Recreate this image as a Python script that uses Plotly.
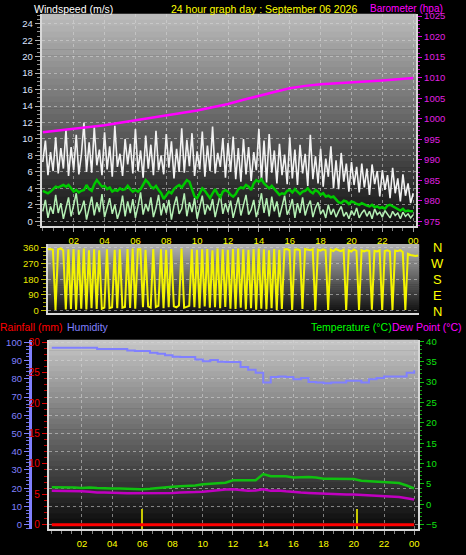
import plotly.graph_objects as go

W, H = 466, 555

# ---------------- data ----------------
hours_10min = [i / 6 for i in range(145)]
hours_30min = [i / 2 for i in range(49)]
hours_1h = list(range(25))

x_tick_vals = [2, 4, 6, 8, 10, 12, 14, 16, 18, 20, 22, 24]
x_tick_text = ["02", "04", "06", "08", "10", "12", "14", "16", "18", "20", "22", "00"]

wind_gust = [
    7.2, 9.8, 5.6, 8.4, 6.1, 10.2,
    5.8, 8.9, 6.4, 11.1, 5.5, 9.0,
    6.2, 10.5, 5.7, 8.1, 12.0, 6.0,
    9.6, 5.9, 11.4, 6.8, 8.7, 5.6,
    10.8, 6.3, 9.1, 5.4, 11.6, 6.6,
    8.2, 5.5, 10.0, 6.9, 9.4, 5.8,
    11.2, 6.1, 8.6, 5.3, 10.4, 6.4,
    9.3, 5.6, 11.0, 6.2, 8.0, 5.7,
    10.6, 6.5, 9.7, 5.2, 8.8, 6.0,
    11.3, 5.9, 9.9, 6.7, 10.7, 5.5,
    8.5, 6.3, 10.9, 5.4, 9.2, 6.1,
    11.5, 5.8, 8.3, 6.6, 10.1, 5.3,
    9.5, 6.0, 10.3, 5.1, 8.9, 4.8,
    10.0, 5.7, 9.0, 4.9, 8.4, 6.2,
    11.2, 5.0, 9.8, 4.7, 10.6, 5.9,
    8.6, 4.6, 9.4, 5.6, 8.1, 4.5,
    10.2, 5.2, 8.7, 4.4, 9.3, 5.8,
    8.2, 4.3, 10.5, 5.1, 7.9, 4.6,
    8.8, 4.2, 7.6, 5.4, 9.1, 4.0,
    7.4, 3.9, 8.3, 4.8, 7.0, 3.6,
    7.2, 4.4, 6.6, 3.5, 7.0, 4.1,
    6.4, 3.2, 6.9, 4.5, 6.1, 3.0,
    6.2, 3.8, 5.6, 2.8, 6.5, 3.4,
    5.2, 2.4, 5.7, 3.1, 4.6, 2.2,
    3.4,
]

wind_speed = [
    1.2, 2.6, 0.4, 1.8, 0.9, 3.2,
    1.0, 2.2, 0.3, 1.5, 2.9, 0.6,
    1.9, 3.4, 0.8, 1.4, 2.5, 0.2,
    1.6, 3.0, 0.7, 2.3, 1.1, 3.3,
    0.5, 1.7, 2.8, 0.9, 2.0, 0.3,
    1.3, 3.1, 0.6, 2.4, 1.0, 2.7,
    0.4, 1.8, 3.5, 0.8, 2.1, 1.2,
    2.9, 0.5, 1.6, 3.2, 0.7, 2.2,
    1.0, 2.6, 0.2, 1.9, 3.0, 0.9,
    1.5, 3.4, 0.6, 2.3, 1.1, 2.8,
    0.3, 1.7, 3.1, 0.8, 2.0, 1.3,
    2.7, 0.5, 1.8, 3.3, 0.9, 2.2,
    1.1, 2.5, 0.4, 1.6, 2.9, 0.7,
    2.0, 3.2, 0.8, 1.4, 2.6, 0.5,
    1.7, 3.4, 1.0, 2.8, 0.6, 3.0,
    1.2, 2.4, 0.5, 1.9, 3.1, 0.8,
    1.5, 2.7, 0.4, 2.2, 1.0, 2.9,
    0.7, 1.8, 2.5, 0.5, 1.6, 2.3,
    0.9, 1.4, 0.4, 2.0, 0.8, 1.5,
    0.5, 1.2, 1.8, 0.6, 1.1, 0.3,
    1.3, 0.7, 1.6, 0.4, 1.0, 1.4,
    0.6, 1.2, 0.3, 1.5, 0.8, 1.1,
    0.5, 1.3, 0.9, 0.4, 1.2, 0.7,
    1.0, 0.3, 1.1, 0.6, 0.9, 0.4,
    0.8,
]

wind_avg = [
    3.7, 3.5, 3.4, 3.6, 3.9, 4.2,
    4.1, 4.3, 4.4, 4.2, 4.4, 4.0,
    3.6, 3.8, 3.5, 3.7, 3.8, 4.4,
    3.9, 3.7, 4.5, 5.0, 4.6, 4.2,
    4.3, 3.9, 4.1, 3.6, 3.8, 3.7,
    4.0, 3.8, 3.9, 4.3, 3.9, 3.6,
    3.8, 3.6, 3.9, 4.4, 5.0, 4.7,
    4.2, 4.0, 4.3, 3.8, 3.4, 2.7,
    3.2, 3.6, 3.4, 3.9, 4.2, 4.4,
    4.1, 4.5, 5.0, 4.8, 4.0, 3.0,
    2.8, 3.5, 4.0, 3.7, 3.2, 2.8,
    3.4, 3.9, 3.3, 2.9, 3.6, 3.8,
    3.6, 3.2, 3.0, 3.3, 3.9, 4.1,
    4.0, 4.4, 4.2, 3.8, 4.6, 5.0,
    4.8, 5.1, 4.6, 4.3, 4.0, 4.3,
    3.9, 3.5, 3.2, 3.4, 3.3, 3.7,
    3.8, 3.5, 3.9, 3.6, 3.3, 3.6,
    3.7, 4.0, 3.6, 3.4, 3.8, 3.6,
    3.2, 3.4, 3.0, 3.1, 2.9, 3.0,
    2.6, 2.3, 2.2, 2.5, 2.4, 2.1,
    2.4, 2.3, 2.1, 2.0, 2.2, 2.0,
    1.9, 1.8, 2.0, 1.7, 1.8, 1.6,
    1.7, 1.5, 1.9, 2.0, 1.8, 1.6,
    1.4, 1.3, 1.5, 1.2, 1.3, 1.2,
    1.2,
]

barometer = [
    996.7, 997.1, 997.6, 998.0, 998.4, 999.0, 999.6, 1000.2, 1000.8,
    1001.4, 1002.0, 1002.8, 1003.6, 1004.6, 1005.6, 1006.5, 1007.4,
    1008.0, 1008.4, 1008.6, 1008.9, 1009.1, 1009.3, 1009.6, 1009.9,
]

wind_dir = [
    350, 352, 348, 5, 350, 355,
    345, 8, 350, 10, 352, 6,
    348, 12, 355, 8, 345, 15,
    350, 10, 345, 12, 18, 350,
    15, 20, 348, 14, 350, 18,
    22, 352, 16, 355, 12, 350,
    350, 20, 348, 25, 18, 352,
    22, 28, 350, 15, 348, 20,
    352, 25, 20, 30, 355, 18,
    22, 28, 350, 20, 348, 15,
    350, 25, 352, 18, 345, 20,
    355, 15, 350, 22, 348, 12,
    352, 10, 355, 18, 350, 8,
    348, 15, 352, 6, 355, 12,
    350, 8, 345, 14, 352, 5,
    348, 10, 350, 352, 345, 5,
    348, 350, 345, 10, 352, 348,
    345, 350, 3, 348, 342, 350,
    345, 5, 348, 340, 352, 345,
    340, 348, 4, 345, 338, 350,
    342, 5, 345, 338, 345, 340,
    6, 342, 338, 345, 5, 340,
    345, 338, 4, 342, 340, 345,
    335, 5, 325, 318, 315, 312,
    315,
]

humidity = [
    97.0, 97.0, 97.0, 97.0, 97.0, 97.0, 96.4, 96.4, 96.4, 96.4,
    95.5, 95.2, 95.2, 94.3, 93.8, 93.0, 92.1, 92.0, 92.0, 90.6,
    89.7, 90.3, 89.4, 89.2, 89.2, 86.5, 85.0, 83.4, 78.0, 81.0,
    81.3, 81.0, 79.8, 80.4, 78.3, 78.0, 77.6, 78.0, 78.0, 78.9,
    78.9, 78.0, 79.8, 80.5, 81.3, 81.3, 81.3, 83.4, 84.7,
]

temperature = [
    4.2, 4.2, 4.1, 4.1, 4.0, 4.1, 4.0, 3.9, 3.9, 3.9,
    3.8, 3.7, 3.7, 3.8, 4.0, 4.2, 4.3, 4.4, 4.5, 4.6,
    4.9, 5.0, 5.2, 5.3, 5.9, 5.9, 5.9, 5.9, 7.4, 6.9,
    6.9, 6.9, 6.6, 6.7, 6.7, 6.6, 6.3, 6.3, 6.3, 6.3,
    6.2, 5.8, 5.7, 5.6, 5.4, 5.3, 5.2, 4.6, 3.9,
]

dew_point = [
    3.3, 3.3, 3.3, 3.3, 3.2, 3.1, 2.9, 2.9, 2.9, 2.8,
    2.7, 2.7, 2.7, 2.7, 2.7, 2.8, 2.8, 2.9, 2.9, 3.0,
    3.1, 3.3, 3.4, 3.6, 3.7, 3.5, 3.3, 3.4, 3.7, 3.3,
    3.4, 3.2, 3.0, 2.9, 2.8, 2.7, 2.7, 2.6, 2.5, 2.4,
    2.4, 2.3, 2.2, 2.1, 2.0, 1.9, 1.8, 1.5, 1.2,
]

rainfall = [0, 0, 0, 0, 0, 0, 0, 0, 0, 0, 0, 0, 0,
            0, 0, 0, 0, 0, 0, 0, 0, 0, 0, 0, 0]

rain_event_hours = [6.0, 20.2]
rain_event_mm = [2.5, 2.5]

# ---------------- helpers ----------------
FONT = "Liberation Sans, Arial, sans-serif"


def lin(va, pa, vb, pb):
    k = (vb - va) / (pb - pa)
    return lambda p: va + (p - pa) * k


def xdom(l, r):
    return [l / W, r / W]


def ydom(t, b):
    return [1 - b / H, 1 - t / H]


# panel pixel boxes
P1 = dict(l=42, r=418, t=10, b=225)
P2 = dict(l=48, r=421, t=243, b=313)
P3 = dict(l=49, r=420, t=340, b=532)

x1 = lin(0, 43, 24, 415)
yw = lin(0, 220, 24, 20)
yb = lin(975, 220, 1025, 12.3)
x2 = lin(0, 48, 24, 420)
yd = lin(0, 310.7, 360, 246.7)
x3 = lin(0, 52, 24, 416)
yh = lin(0, 527.3, 100, 342.7)
yr = lin(0, 527.3, 30, 342.7)
yt = lin(-5, 527.3, 40, 341.7)

rain_lo = yr(P3["b"])

GRID = "rgba(215,215,215,0.55)"
EDGE = "#d8d8d8"

fig = go.Figure()

# ---- panel 1: wind + barometer ----
fig.add_trace(go.Scatter(x=hours_10min, y=wind_gust, xaxis="x", yaxis="y", mode="lines",
                         line=dict(color="#f2f2f2", width=1.6)))
fig.add_trace(go.Scatter(x=hours_10min, y=wind_speed, xaxis="x", yaxis="y", mode="lines",
                         line=dict(color="#b4f0b4", width=1.5)))
fig.add_trace(go.Scatter(x=hours_10min, y=wind_avg, xaxis="x", yaxis="y", mode="lines",
                         line=dict(color="#00c800", width=2.5)))
fig.add_trace(go.Scatter(x=hours_1h, y=barometer, xaxis="x", yaxis="y2", mode="lines",
                         line=dict(color="#ff00ff", width=2.5)))

# ---- panel 2: wind direction ----
fig.add_trace(go.Scatter(x=hours_10min, y=wind_dir, xaxis="x2", yaxis="y3", mode="lines",
                         line=dict(color="#f4f400", width=2)))

# ---- panel 3: rain / humidity / temperature / dew point ----
fig.add_trace(go.Bar(x=rain_event_hours, y=[v - rain_lo for v in rain_event_mm], base=rain_lo,
                     xaxis="x3", yaxis="y5", width=0.13,
                     marker=dict(color="#c8c800", line=dict(width=0))))
fig.add_trace(go.Scatter(x=hours_1h, y=rainfall, xaxis="x3", yaxis="y5", mode="lines",
                         line=dict(color="#ff0000", width=3)))
fig.add_trace(go.Scatter(x=hours_30min, y=humidity, xaxis="x3", yaxis="y4", mode="lines",
                         line=dict(color="#8080ff", width=2, shape="hv")))
fig.add_trace(go.Scatter(x=hours_30min, y=temperature, xaxis="x3", yaxis="y6", mode="lines",
                         line=dict(color="#10c010", width=2.5)))
fig.add_trace(go.Scatter(x=hours_30min, y=dew_point, xaxis="x3", yaxis="y6", mode="lines",
                         line=dict(color="#c000c0", width=2.5)))

# ---- gradient backgrounds ----
shapes = []


def gradient(box, top_gray, bottom_gray, n=36):
    h = (box["b"] - box["t"]) / n
    for i in range(n):
        f = (i + 0.5) / n
        g = int(round(top_gray + (bottom_gray - top_gray) * f))
        y0 = box["t"] + i * h
        y1 = y0 + h + 0.6
        shapes.append(dict(type="rect", xref="paper", yref="paper", layer="below",
                           x0=box["l"] / W, x1=box["r"] / W,
                           y0=1 - y1 / H, y1=1 - y0 / H,
                           line=dict(width=0), fillcolor=f"rgb({g},{g},{g})"))


gradient(P1, 188, 14)
gradient(P2, 180, 14)
gradient(P3, 200, 8)


def tfont(color, size=9.5):
    return dict(family=FONT, size=size, color=color)


layout = dict(
    width=W, height=H,
    margin=dict(l=0, r=0, t=0, b=0),
    paper_bgcolor="#000000",
    plot_bgcolor="rgba(0,0,0,0)",
    showlegend=False,
    bargap=0,
    hovermode=False,
    shapes=shapes,
    xaxis=dict(domain=xdom(P1["l"], P1["r"]), anchor="y", range=[x1(P1["l"]), x1(P1["r"])],
               tickvals=x_tick_vals, ticktext=x_tick_text, tickfont=tfont("#ffff00"),
               ticks="outside", ticklen=4, tickcolor="#a0a0a0", tickwidth=1,
               minor=dict(dtick=2 / 3, tick0=0, ticks="outside", ticklen=3, tickcolor="#808080"),
               showgrid=True, gridcolor=GRID, griddash="dot", gridwidth=1,
               showline=True, linecolor=EDGE, linewidth=2, zeroline=False, fixedrange=True),
    yaxis=dict(domain=ydom(P1["t"], P1["b"]), anchor="x", range=[yw(P1["b"]), yw(P1["t"])],
               tickvals=list(range(0, 25, 2)), tickfont=tfont("#dde4ff"),
               ticks="outside", ticklen=5, tickcolor="#b0b0b0",
               minor=dict(dtick=0.5, tick0=0, ticks="outside", ticklen=3, tickcolor="#909090"),
               showgrid=True, gridcolor=GRID, griddash="dot", gridwidth=1,
               showline=True, linecolor=EDGE, linewidth=2, zeroline=False),
    yaxis2=dict(overlaying="y", side="right", anchor="x", range=[yb(P1["b"]), yb(P1["t"])],
                tickvals=list(range(975, 1026, 5)), tickfont=tfont("#e020e0"),
                ticks="outside", ticklen=4, tickcolor="#e000e0",
                minor=dict(dtick=1, tick0=975, ticks="outside", ticklen=2, tickcolor="#c000c0"),
                showgrid=False, showline=True, linecolor=EDGE, linewidth=2, zeroline=False),
    xaxis2=dict(domain=xdom(P2["l"], P2["r"]), anchor="y3", range=[x2(P2["l"]), x2(P2["r"])],
                showticklabels=False, ticks="", showgrid=False,
                showline=True, linecolor=EDGE, linewidth=2, zeroline=False),
    yaxis3=dict(domain=ydom(P2["t"], P2["b"]), anchor="x2", range=[yd(P2["b"]), yd(P2["t"])],
                tickvals=[0, 90, 180, 270, 360], tickfont=tfont("#e8e800"),
                ticks="outside", ticklen=5, tickcolor="#c0c000",
                minor=dict(dtick=22.5, tick0=0, ticks="outside", ticklen=3, tickcolor="#a0a000"),
                showgrid=True, gridcolor=GRID, griddash="dot", gridwidth=1,
                showline=True, linecolor=EDGE, linewidth=2, zeroline=False),
    xaxis3=dict(domain=xdom(P3["l"], P3["r"]), anchor="y5", range=[x3(P3["l"]), x3(P3["r"])],
                tickvals=x_tick_vals, ticktext=x_tick_text, tickfont=tfont("#ffff00"),
                ticks="outside", ticklen=4, tickcolor="#a0a0a0",
                minor=dict(dtick=2 / 3, tick0=0, ticks="outside", ticklen=3, tickcolor="#808080"),
                showgrid=True, gridcolor=GRID, griddash="dot", gridwidth=1,
                showline=True, linecolor=EDGE, linewidth=2, zeroline=False),
    yaxis5=dict(domain=ydom(P3["t"], P3["b"]), anchor="x3", side="left",
                range=[yr(P3["b"]), yr(P3["t"])],
                tickvals=[0, 5, 10, 15, 20, 25, 30], tickfont=tfont("#f00000", 10),
                ticks="outside", ticklen=5, tickcolor="#e00000",
                minor=dict(dtick=1, tick0=0, ticks="outside", ticklen=3, tickcolor="#c00000"),
                showgrid=False, showline=True, linecolor=EDGE, linewidth=2, zeroline=False),
    yaxis4=dict(overlaying="y5", anchor="free", position=30 / W, side="left",
                range=[yh(P3["b"]), yh(P3["t"])],
                tickvals=list(range(0, 101, 10)), tickfont=tfont("#8080ff"),
                ticks="outside", ticklen=5, tickcolor="#8080ff",
                minor=dict(dtick=2, tick0=0, ticks="outside", ticklen=3, tickcolor="#7070e0"),
                showgrid=True, gridcolor=GRID, griddash="dot", gridwidth=1,
                showline=True, linecolor="#8080ff", linewidth=3, zeroline=False),
    yaxis6=dict(overlaying="y5", anchor="x3", side="right",
                range=[yt(P3["b"]), yt(P3["t"])],
                tickvals=list(range(-5, 41, 5)), tickfont=tfont("#10e010"),
                ticks="outside", ticklen=4, tickcolor="#10c010",
                minor=dict(dtick=1, tick0=-5, ticks="outside", ticklen=2, tickcolor="#10a010"),
                showgrid=False, showline=True, linecolor=EDGE, linewidth=2, zeroline=False),
)


def label(text, px, py, color, size=10.5, anchor="left"):
    return dict(text=text, x=px / W, y=1 - py / H, xref="paper", yref="paper",
                xanchor=anchor, yanchor="middle", showarrow=False, borderpad=0,
                font=dict(family=FONT, size=size, color=color))


annotations = [
    label("Windspeed (m/s)", 33, 5, "#ffffff"),
    label("24 hour graph day : September 06 2026", 171, 5, "#ffff00"),
    label("Barometer (hpa)", 371, 4.5, "#ff00ff", 10),
    label("Rainfall (mm)", -1, 327, "#ff0000"),
    label("Humidity", 66, 327, "#8080ff"),
    label("Temperature (°C)", 311, 327, "#00ff00"),
    label("Dew Point (°C)", 393, 327, "#ff00ff"),
]
for txt, py in zip(["N", "W", "S", "E", "N"], [247, 263, 279, 295, 311]):
    annotations.append(label(txt, 439, py, "#ffff00", 13, "center"))

layout["annotations"] = annotations
fig.update_layout(**layout)

fig.write_html(
    "out.html",
    config={"displayModeBar": False, "staticPlot": True},
    post_script="document.body.style.margin='0';document.body.style.padding='0';"
                "document.body.style.background='#000';",
)
